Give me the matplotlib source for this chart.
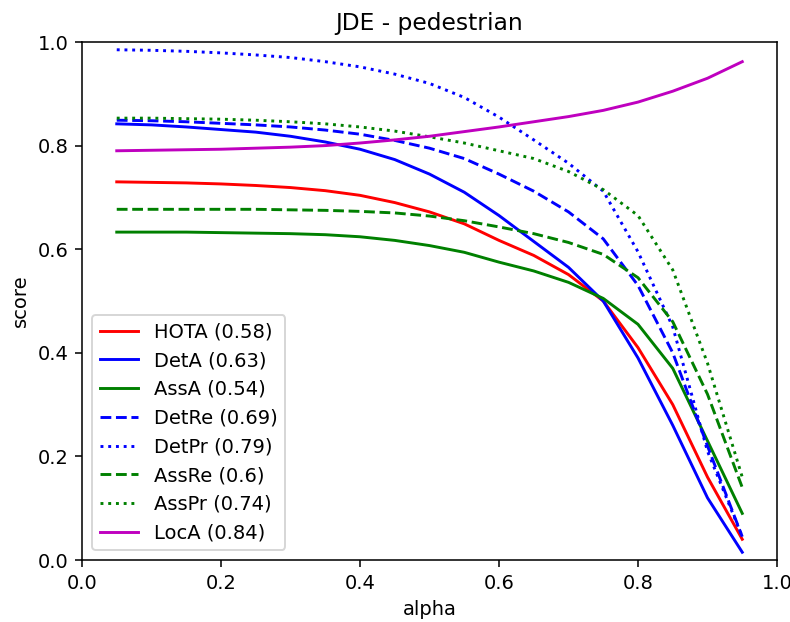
import numpy as np
import matplotlib
matplotlib.use("Agg")
import matplotlib.pyplot as plt

alpha = np.arange(0.05, 0.96, 0.05)

hota = [0.730, 0.729, 0.728, 0.726, 0.723, 0.719, 0.713, 0.704, 0.690, 0.672,
        0.649, 0.617, 0.588, 0.551, 0.500, 0.410, 0.300, 0.160, 0.040]
deta = [0.842, 0.840, 0.836, 0.831, 0.826, 0.818, 0.807, 0.793, 0.773, 0.745,
        0.710, 0.665, 0.615, 0.565, 0.500, 0.390, 0.260, 0.120, 0.015]
assa = [0.633, 0.633, 0.633, 0.632, 0.631, 0.630, 0.628, 0.624, 0.617, 0.607,
        0.594, 0.575, 0.558, 0.536, 0.505, 0.455, 0.370, 0.230, 0.090]
detre = [0.849, 0.848, 0.846, 0.843, 0.840, 0.836, 0.830, 0.822, 0.810, 0.795,
         0.775, 0.745, 0.712, 0.672, 0.620, 0.530, 0.400, 0.220, 0.045]
detpr = [0.985, 0.984, 0.982, 0.979, 0.975, 0.970, 0.962, 0.952, 0.938, 0.920,
         0.893, 0.855, 0.811, 0.766, 0.712, 0.595, 0.450, 0.210, 0.045]
assre = [0.677, 0.677, 0.677, 0.677, 0.677, 0.676, 0.675, 0.673, 0.670, 0.664,
         0.655, 0.643, 0.630, 0.613, 0.590, 0.545, 0.460, 0.320, 0.140]
asspr = [0.853, 0.853, 0.852, 0.851, 0.849, 0.846, 0.842, 0.836, 0.828, 0.817,
         0.805, 0.790, 0.775, 0.750, 0.715, 0.665, 0.560, 0.380, 0.160]
loca = [0.790, 0.791, 0.792, 0.793, 0.795, 0.797, 0.800, 0.805, 0.811, 0.818,
        0.827, 0.836, 0.846, 0.856, 0.868, 0.884, 0.905, 0.930, 0.962]

series = [
    ("HOTA", hota, "r", "-"),
    ("DetA", deta, "b", "-"),
    ("AssA", assa, "g", "-"),
    ("DetRe", detre, "b", "--"),
    ("DetPr", detpr, "b", ":"),
    ("AssRe", assre, "g", "--"),
    ("AssPr", asspr, "g", ":"),
    ("LocA", loca, "m", "-"),
]

fig = plt.figure(figsize=(790 / 140, 622 / 140), dpi=140)
ax = fig.add_axes([82 / 790, 1 - 560 / 622, 695 / 790, 518 / 622])

for name, vals, col, ls in series:
    mean = round(float(np.mean(vals)), 2)
    ax.plot(alpha, vals, color=col, linestyle=ls, label=f"{name} ({mean:g})")

ax.set_xlim(0, 1)
ax.set_ylim(0, 1)
ax.set_xlabel("alpha")
ax.set_ylabel("score")
ax.set_title("JDE - pedestrian")
ax.legend(loc="lower left")

fig.savefig("out.png", dpi=140)
